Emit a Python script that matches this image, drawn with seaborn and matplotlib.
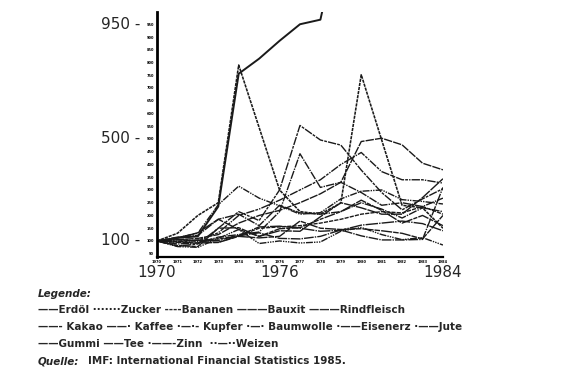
import numpy as np
import pandas as pd
import matplotlib
matplotlib.use("Agg")
import matplotlib.pyplot as plt
import seaborn as sns

# Preisindizes (1970 = 100)
jahre = list(range(1970, 1985))
erdoel = [100, 112, 118, 235, 756, 815, 885, 950, 968, 1330, 2200, 2500, 2575, 2250, 2190]
zucker = [100, 130, 200, 250, 790, 545, 300, 215, 205, 249, 752, 496, 240, 230, 150]
bananen = [100, 98, 103, 108, 120, 150, 155, 160, 170, 185, 205, 215, 210, 235, 205]
bauxit = [100, 105, 110, 125, 170, 200, 220, 250, 285, 330, 490, 503, 477, 405, 379]
rindfleisch = [100, 112, 132, 185, 145, 118, 140, 138, 195, 250, 230, 205, 205, 270, 344]
kakao = [100, 80, 88, 150, 215, 180, 300, 553, 496, 476, 378, 290, 222, 265, 305]
kaffee = [100, 88, 92, 115, 125, 135, 215, 442, 310, 330, 290, 240, 250, 235, 268]
kupfer = [100, 78, 75, 110, 145, 90, 100, 92, 96, 138, 153, 125, 105, 113, 84]
baumwolle = [100, 115, 122, 185, 205, 160, 240, 210, 205, 215, 250, 225, 190, 230, 215]
eisenerz = [100, 105, 102, 102, 122, 155, 158, 150, 138, 142, 162, 170, 178, 168, 140]
jute = [100, 105, 98, 95, 120, 132, 110, 108, 118, 143, 120, 104, 104, 106, 310]
gummi = [100, 82, 78, 150, 152, 118, 148, 152, 185, 215, 260, 220, 170, 200, 160]
tee = [100, 95, 92, 94, 118, 112, 118, 178, 150, 145, 148, 140, 130, 108, 200]
zinn = [100, 95, 103, 132, 200, 225, 260, 300, 340, 400, 447, 372, 340, 340, 327]
weizen = [100, 112, 131, 242, 315, 268, 238, 205, 211, 265, 295, 300, 262, 255, 245]

namen = ["Erdöl", "Zucker", "Bananen", "Bauxit", "Rindfleisch", "Kakao", "Kaffee",
         "Kupfer", "Baumwolle", "Eisenerz", "Jute", "Gummi", "Tee", "Zinn", "Weizen"]
reihen = [erdoel, zucker, bananen, bauxit, rindfleisch, kakao, kaffee, kupfer,
          baumwolle, eisenerz, jute, gummi, tee, zinn, weizen]

df = pd.concat([pd.DataFrame({"Jahr": jahre, "Index": r, "Rohstoff": n})
                for n, r in zip(namen, reihen)], ignore_index=True)

# Strichmuster wie in der Legende (im Scan fast durchgezogen)
striche = {
    "Erdöl": "", "Zucker": (2, 0.6), "Bananen": (3, 0.8), "Bauxit": (6, 0.8),
    "Rindfleisch": (8, 0.7), "Kakao": (6, 0.8, 2, 0.8), "Kaffee": (6, 0.8, 1, 0.8),
    "Kupfer": (1, 0.8, 5, 0.8, 1, 0.8, 1, 0.8), "Baumwolle": (1, 0.8, 6, 0.8),
    "Eisenerz": (1, 0.8, 9, 0.8), "Jute": (1, 0.8, 7, 0.8), "Gummi": (3, 0.8, 8, 0.8),
    "Tee": (4, 0.8, 8, 0.7), "Zinn": (1, 0.8, 6, 0.8, 2, 0.8), "Weizen": (1, 0.8, 1, 0.8, 5, 0.8),
}

sns.set_style("white")
plt.rcParams["font.family"] = ["DejaVu Sans"]

fig = plt.figure(figsize=(5.8, 3.84), dpi=100)
ax = fig.add_axes([0.2707, 0.3307, 0.493, 0.638])

sns.lineplot(data=df, x="Jahr", y="Index", hue="Rohstoff", style="Rohstoff",
             hue_order=namen, style_order=namen,
             palette={n: "#1a1a1a" for n in namen}, dashes=striche,
             linewidth=1.0, legend=False, ax=ax)
for line, n in zip(ax.lines, namen):
    if n == "Erdöl":
        line.set_linewidth(1.4)
    elif n == "Zucker":
        line.set_linewidth(1.15)

ax.set_xlim(1970, 1984)
ax.set_ylim(37, 998)
sns.despine(ax=ax)
ax.spines["left"].set_linewidth(2.0)
ax.spines["bottom"].set_linewidth(1.6)
ax.spines["left"].set_color("black")
ax.spines["bottom"].set_color("black")
ax.set_xlabel("")
ax.set_ylabel("")

ax.set_yticks(range(50, 1000, 50))
ax.set_yticklabels([str(v) for v in range(50, 1000, 50)], fontsize=2.6, fontweight="bold")
ax.set_xticks(jahre)
ax.set_xticklabels([str(j) for j in jahre], fontsize=2.6, fontweight="bold")
ax.tick_params(axis="both", length=1.5, width=0.6, pad=0.6, colors="black")

# grosse Achsenbeschriftungen
for v in (950, 500, 100):
    ax.annotate(f"{v} -", xy=(0, v), xycoords=("axes fraction", "data"),
                xytext=(-17, 0), textcoords="offset pixels",
                ha="right", va="center", fontsize=11, family="Arial")
for j in (1970, 1976, 1984):
    ax.annotate(str(j), xy=(j, 0), xycoords=("data", "axes fraction"),
                xytext=(0, -15), textcoords="offset pixels",
                ha="center", va="center", fontsize=11, family="Arial")

# Legende als Text
fs = 7.5
x0 = 38 / 580
fig.text(x0, 1 - 294 / 384, "Legende:", fontsize=fs, fontweight="bold",
         style="italic", va="center")
fig.text(x0, 1 - 310 / 384,
         "——Erdöl ·······Zucker ----Bananen ———Bauxit ———Rindfleisch",
         fontsize=fs, fontweight="bold", va="center")
fig.text(x0, 1 - 327 / 384,
         "——- Kakao ——· Kaffee ·—·- Kupfer ·—· Baumwolle ·——Eisenerz ·——Jute",
         fontsize=fs, fontweight="bold", va="center")
fig.text(x0, 1 - 344 / 384,
         "——Gummi ——Tee ·——-Zinn  ··—··Weizen",
         fontsize=fs, fontweight="bold", va="center")
fig.text(x0, 1 - 361 / 384, "Quelle:", fontsize=fs, fontweight="bold",
         style="italic", va="center")
fig.text(88 / 580, 1 - 361 / 384, "IMF: International Financial Statistics 1985.",
         fontsize=fs, fontweight="bold", va="center")

fig.savefig("out.png", dpi=100)
